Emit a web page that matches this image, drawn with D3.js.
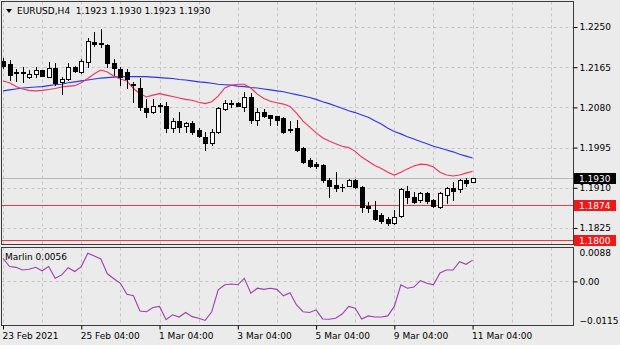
<!DOCTYPE html>
<html><head><meta charset="utf-8">
<script src="https://cdn.jsdelivr.net/npm/d3@7/dist/d3.min.js"></script>
<style>body{margin:0;background:#ebebeb;} svg{display:block;} text{font-family:"DejaVu Sans",sans-serif;font-size:9px;}</style>
</head><body>
<svg id="c" width="620" height="345"></svg>
<script>
const symbol = "EURUSD,H4";
const lastQuote = ["1.1923","1.1930","1.1923","1.1930"];
const timeLabels = ["23 Feb 2021","25 Feb 04:00","1 Mar 04:00","3 Mar 04:00","5 Mar 04:00","9 Mar 04:00","11 Mar 04:00"];
const priceTicks = [1.2250,1.2165,1.2080,1.1995,1.1910,1.1825];
const marlinTicks = [0.0088,0.00,-0.0115];
const levels = [1.1874,1.1800];
const bid = 1.1930;
const candleOpen = [1.2178,1.2171,1.2155,1.2154,1.2144,1.2151,1.2159,1.2145,1.2163,1.2134,1.2139,1.2165,1.2155,1.2177,1.2218,1.2216,1.2212,1.2173,1.2161,1.2155,1.2129,1.2122,1.2078,1.2070,1.2085,1.2083,1.2036,1.2051,1.2041,1.2048,1.2032,1.2018,1.2004,1.2027,1.2077,1.2087,1.2090,1.2080,1.2101,1.2053,1.2070,1.2063,1.2061,1.2058,1.2034,1.2036,1.1994,1.1969,1.1960,1.1958,1.1926,1.1916,1.1912,1.1914,1.1926,1.1912,1.1871,1.1863,1.1852,1.1845,1.1836,1.1850,1.1904,1.1890,1.1884,1.1898,1.1884,1.1870,1.1895,1.1909,1.1907,1.1926,1.1923];
const candleHigh = [1.2184,1.2180,1.2161,1.2166,1.2159,1.2165,1.2160,1.2175,1.2173,1.2145,1.2173,1.2168,1.2182,1.2226,1.2239,1.2245,1.2215,1.2182,1.2165,1.2161,1.2134,1.2142,1.2097,1.2097,1.2090,1.2092,1.2057,1.2071,1.2050,1.2051,1.2036,1.2027,1.2034,1.2081,1.2096,1.2096,1.2091,1.2113,1.2110,1.2078,1.2076,1.2064,1.2062,1.2060,1.2052,1.2054,1.1997,1.1974,1.1965,1.1960,1.1930,1.1944,1.1918,1.1929,1.1928,1.1914,1.1881,1.1883,1.1856,1.1849,1.1863,1.1909,1.1914,1.1902,1.1902,1.1902,1.1886,1.1902,1.1912,1.1923,1.1928,1.1930,1.1930];
const candleLow = [1.2163,1.2138,1.2136,1.2134,1.2142,1.2144,1.2146,1.2144,1.2127,1.2108,1.2138,1.2155,1.2153,1.2166,1.2210,1.2208,1.2166,1.2149,1.2127,1.2120,1.2092,1.2074,1.2060,1.2068,1.2071,1.2027,1.2029,1.2029,1.2029,1.2024,1.2017,1.1990,1.2000,1.2025,1.2074,1.2081,1.2082,1.2072,1.2047,1.2043,1.2060,1.2043,1.2043,1.2026,1.2027,1.1987,1.1962,1.1953,1.1951,1.1923,1.1891,1.1904,1.1904,1.1913,1.1909,1.1859,1.1859,1.1842,1.1836,1.1831,1.1833,1.1849,1.1877,1.1877,1.1881,1.1878,1.1869,1.1867,1.1877,1.1884,1.1902,1.1914,1.1923];
const candleClose = [1.2168,1.2149,1.2153,1.2153,1.2150,1.2159,1.2147,1.2163,1.2132,1.2141,1.2166,1.2157,1.2179,1.2221,1.2213,1.2213,1.2173,1.2163,1.2145,1.2139,1.2127,1.2081,1.2071,1.2083,1.2084,1.2036,1.2052,1.2039,1.2048,1.2029,1.2020,1.2004,1.2027,1.2078,1.2090,1.2090,1.2083,1.2103,1.2054,1.2071,1.2062,1.2058,1.2054,1.2029,1.2032,1.1990,1.1965,1.1956,1.1957,1.1926,1.1914,1.1909,1.1911,1.1926,1.1911,1.1870,1.1867,1.1845,1.1840,1.1835,1.1849,1.1907,1.1890,1.1881,1.1900,1.1883,1.1871,1.1898,1.1909,1.1904,1.1926,1.1920,1.1930];
const maRed = [1.2136,1.2132,1.2124,1.2119,1.2116,1.2115,1.2116,1.2118,1.2120,1.2123,1.2125,1.2126,1.2132,1.2141,1.2151,1.2159,1.2155,1.2146,1.2140,1.2136,1.2120,1.2109,1.2102,1.2106,1.2109,1.2106,1.2103,1.2100,1.2097,1.2095,1.2091,1.2088,1.2092,1.2104,1.2121,1.2127,1.2129,1.2129,1.2121,1.2108,1.2099,1.2093,1.2090,1.2087,1.2082,1.2068,1.2051,1.2039,1.2026,1.2016,1.2009,1.2003,1.1998,1.1995,1.1987,1.1975,1.1966,1.1957,1.1951,1.1943,1.1937,1.1943,1.1950,1.1956,1.1960,1.1959,1.1954,1.1943,1.1937,1.1935,1.1937,1.1941,1.1945];
const maBlue = [1.2115,1.2117,1.2119,1.2121,1.2122,1.2123,1.2124,1.2126,1.2128,1.2129,1.2132,1.2134,1.2136,1.2138,1.2140,1.2142,1.2143,1.2144,1.2145,1.2145,1.2145,1.2145,1.2145,1.2144,1.2143,1.2142,1.2141,1.2139,1.2138,1.2136,1.2134,1.2133,1.2131,1.2129,1.2128,1.2127,1.2125,1.2124,1.2122,1.2121,1.2119,1.2117,1.2115,1.2113,1.2110,1.2107,1.2104,1.2101,1.2097,1.2092,1.2088,1.2083,1.2078,1.2073,1.2069,1.2064,1.2059,1.2052,1.2045,1.2036,1.2029,1.2024,1.2018,1.2013,1.2008,1.2003,1.1998,1.1994,1.1990,1.1986,1.1981,1.1977,1.1973];
const marlin = [0.0061,0.0039,0.0037,0.0030,0.0032,0.0037,0.0028,0.0039,0.0008,0.0017,0.0036,0.0026,0.0039,0.0074,0.0067,0.0059,0.0020,0.0007,-0.0005,-0.0034,-0.0038,-0.0078,-0.0080,-0.0069,-0.0066,-0.0101,-0.0088,-0.0094,-0.0082,-0.0093,-0.0097,-0.0103,-0.0080,-0.0022,-0.0009,-0.0007,-0.0009,0.0008,-0.0031,-0.0018,-0.0021,-0.0018,-0.0021,-0.0038,-0.0030,-0.0062,-0.0080,-0.0082,-0.0075,-0.0099,-0.0100,-0.0097,-0.0086,-0.0066,-0.0071,-0.0099,-0.0091,-0.0094,-0.0094,-0.0091,-0.0066,-0.0009,-0.0018,-0.0015,0.0002,-0.0005,-0.0009,0.0022,0.0030,0.0030,0.0052,0.0045,0.0056];

const svg = d3.select("#c");
const L = 1.5, R = 573.5, mainTop = 1.5, mainBot = 244.5, subTop = 247.5, subBot = 325.5;
const x = d3.scaleLinear().domain([0, 72]).range([3, 472.6]);
const y = d3.scaleLinear().domain([1.1825, 1.2250]).range([228, 27]);
const ym = d3.scaleLinear().domain([-0.0115, 0.0088]).range([325, 248]);
const px = v => Math.round(v) + 0.5;

svg.append("rect").attr("width",620).attr("height",345).attr("fill","#ebebeb");

// grid
const grid = svg.append("g").attr("stroke","#c4c4c4").attr("stroke-dasharray","3,3").attr("stroke-width",1);
d3.range(0, 85, 6).forEach(i => {
  grid.append("line").attr("x1",px(x(i))).attr("x2",px(x(i))).attr("y1",mainTop).attr("y2",mainBot);
  grid.append("line").attr("x1",px(x(i))).attr("x2",px(x(i))).attr("y1",subTop).attr("y2",subBot);
});
priceTicks.forEach(p => grid.append("line").attr("x1",L).attr("x2",R).attr("y1",px(y(p))).attr("y2",px(y(p))));
grid.append("line").attr("x1",L).attr("x2",R).attr("y1",px(ym(0))).attr("y2",px(ym(0)));

// level lines
svg.append("line").attr("x1",L).attr("x2",R).attr("y1",px(y(bid))).attr("y2",px(y(bid))).attr("stroke","#b8b8b8");
levels.forEach(p => svg.append("line").attr("x1",L).attr("x2",R).attr("y1",px(y(p))).attr("y2",px(y(p))).attr("stroke","#f03c3c"));

// moving averages
const idx = d3.range(candleOpen.length);
const lineP = arr => d3.line().x(i => x(i)).y(i => y(arr[i]))(idx);
svg.append("path").attr("d", lineP(maBlue)).attr("fill","none").attr("stroke","#2a35f0").attr("stroke-width",1.1);
svg.append("path").attr("d", lineP(maRed)).attr("fill","none").attr("stroke","#f0325a").attr("stroke-width",1.1);

// candles
const cg = svg.append("g");
idx.forEach(i => {
  const cx = Math.round(x(i));
  cg.append("line").attr("x1",cx+0.5).attr("x2",cx+0.5).attr("y1",Math.round(y(candleHigh[i]))).attr("y2",Math.round(y(candleLow[i]))+1).attr("stroke","#000");
  const top = Math.round(y(Math.max(candleOpen[i],candleClose[i])));
  const bot = Math.round(y(Math.min(candleOpen[i],candleClose[i])));
  const bull = candleClose[i] >= candleOpen[i];
  cg.append("rect").attr("x",cx-1.5).attr("y",top+0.5).attr("width",4).attr("height",Math.max(bot-top,0.01))
    .attr("fill", bull ? "#ffffff" : "#000000").attr("stroke","#000").attr("stroke-width",1);
});

// marlin line
svg.append("path").attr("d", d3.line().x(i => x(i)).y(i => ym(marlin[i]))(idx)).attr("fill","none").attr("stroke","#a23cb4").attr("stroke-width",1.1);

// panel borders
svg.append("rect").attr("x",L).attr("y",mainTop).attr("width",R-L).attr("height",mainBot-mainTop).attr("fill","none").attr("stroke","#3c3c3c");
svg.append("rect").attr("x",L).attr("y",subTop).attr("width",R-L).attr("height",subBot-subTop).attr("fill","none").attr("stroke","#3c3c3c");

// price axis
const pa = svg.append("g").attr("transform",`translate(${R},0)`)
  .call(d3.axisRight(y).tickValues(priceTicks).tickSize(4).tickPadding(2).tickFormat(d3.format(".4f")));
pa.select(".domain").remove();
pa.selectAll("line").attr("stroke","#000");
pa.selectAll("text").attr("fill","#000").style("font-size","9px").style("font-family","DejaVu Sans");

// marlin axis labels
const ma = svg.append("g").attr("transform",`translate(${R},0)`)
  .call(d3.axisRight(ym).tickValues(marlinTicks).tickSize(4).tickPadding(2).tickFormat(d => d === 0 ? "0.00" : d3.format(".4f")(d)));
ma.select(".domain").remove();
ma.selectAll("line").attr("stroke","#000");
ma.selectAll("text").attr("fill","#000").style("font-size","9px").style("font-family","DejaVu Sans");
ma.selectAll(".tick").filter(d => d === marlinTicks[0]).select("text").attr("dy","0.9em").attr("y",-1);
ma.selectAll(".tick").filter(d => d === marlinTicks[2]).select("text").attr("dy","-0.15em");
ma.selectAll(".tick").filter(d => d !== 0).select("line").remove();

// time axis
const ta = svg.append("g").attr("transform",`translate(0,${subBot})`)
  .call(d3.axisBottom(x).tickValues(d3.range(0, 73, 12)).tickSize(4).tickPadding(3).tickFormat((d,k) => timeLabels[k]));
ta.select(".domain").remove();
ta.selectAll("line").attr("stroke","#000");
ta.selectAll("text").attr("fill","#000").attr("text-anchor","start").attr("x",-1).style("font-size","9px").style("font-family","DejaVu Sans");

// price boxes
const boxes = [{v:bid, bg:"#000000"}, {v:levels[0], bg:"#f01818"}, {v:levels[1], bg:"#f01818"}];
boxes.forEach(b => {
  const yy = Math.round(y(b.v));
  svg.append("rect").attr("x",574).attr("y",yy-5).attr("width",42).attr("height",11).attr("fill",b.bg);
  svg.append("text").attr("x",579).attr("y",yy+4).attr("fill","#fff").text(b.v.toFixed(4));
});

// title
svg.append("path").attr("d","M6,9 L12,9 L9,13 Z").attr("fill","#000");
svg.append("text").attr("x",17).attr("y",14).attr("fill","#000").text(symbol + "\u00A0 " + lastQuote.join(" "));
svg.append("text").attr("x",5).attr("y",260).attr("fill","#000").text("Marlin " + marlin[marlin.length-1].toFixed(4));
</script>
</body></html>
